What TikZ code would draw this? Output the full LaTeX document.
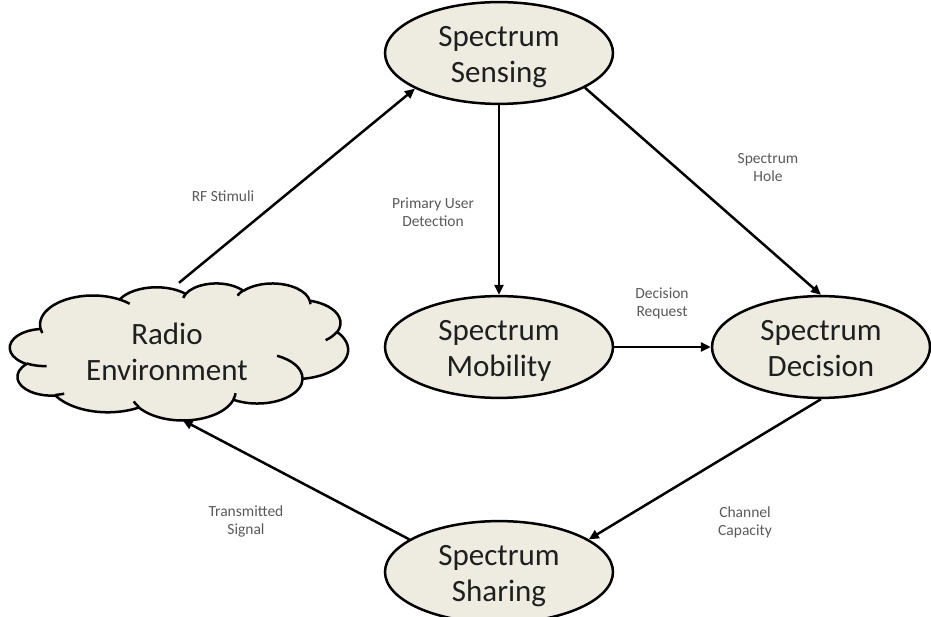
\documentclass[tikz,border=0pt]{standalone}
\usepackage{fontspec}
\setmainfont{Carlito}
\usetikzlibrary{shapes.geometric,arrows.meta}
\definecolor{tanfill}{HTML}{EEECE1}
\definecolor{lbl}{HTML}{595959}
% arc in the way of a DrawingML arcTo (visual angles)
\newcommand{\cdarc}[4]{arc[x radius=#1, y radius=#2,
  start angle={atan2(sin(#3)*#1,cos(#3)*#2)},
  delta angle={mod(atan2(sin(#3+#4)*#1,cos(#3+#4)*#2)-atan2(sin(#3)*#1,cos(#3)*#2)+720,360)}]}
\newcommand{\twolines}[2]{\raisebox{-4pt}[\height][\depth]{\begin{tabular}{@{}c@{}}#1\\#2\end{tabular}}}
\begin{document}
\begin{tikzpicture}[x=1pt,y=-1pt,
  proc/.style={ellipse,draw=black,line width=2.5pt,fill=tanfill,inner sep=0pt,align=center,
    font=\fontsize{31}{36}\selectfont,text=black!88},
  lab/.style={align=center,font=\fontsize{15.5}{18}\selectfont,text=lbl},
  cloudline/.style={draw=black,line width=2.5pt,line join=round},
  conn/.style={line width=2.5pt,-{Triangle[length=10pt,width=9pt]}}]
\useasboundingbox (0,0) rectangle (931,617);
% cloud outline
\begin{scope}[shift={(10,283)},x=0.78241pt,y=-0.31713pt]
\filldraw[cloudline,fill=tanfill] (39.00,143.70)
  \cdarc{67.53}{91.90}{-190.487}{123.781}
  \cdarc{53.33}{72.67}{-144.102}{89.945}
  \cdarc{43.65}{59.45}{-145.808}{99.723}
  \cdarc{48.57}{65.95}{-130.986}{117.242}
  \cdarc{53.33}{72.73}{-78.709}{109.027}
  \cdarc{67.75}{92.20}{-46.267}{130.269}
  \cdarc{57.85}{78.67}{0.625}{114.033}
  \cdarc{67.52}{92.15}{22.452}{115.173}
  \cdarc{77.20}{105.43}{66.243}{75.711}
  \cdarc{43.60}{59.18}{-274.942}{146.736}
  \cdarc{43.45}{59.45}{-246.829}{152.519}
  -- cycle;
\draw[cloudline]
  (46.93,261.77) \cdarc{43.45}{59.45}{86.742}{26.430}
  (69.28,348.99) \cdarc{43.60}{59.18}{73.611}{11.447}
  (164.78,390.90) \cdarc{67.52}{92.15}{137.624}{14.081}
  (288.27,347.51) \cdarc{67.52}{92.15}{6.453}{15.998}
  (341.29,229.54) \cdarc{57.85}{78.67}{-70.292}{70.917}
  (417.98,153.54) \cdarc{53.33}{72.73}{30.318}{27.752}
  (383.24,54.26) \cdarc{48.57}{65.95}{-13.744}{14.859}
  (290.78,39.52) \cdarc{48.57}{65.95}{-149.181}{18.195}
  (221.41,47.20) \cdarc{43.65}{59.45}{-163.494}{17.686}
  (140.00,51.92) \cdarc{67.53}{91.90}{-66.707}{12.319}
  (41.27,157.89) \cdarc{67.53}{91.90}{157.654}{11.858};
\end{scope}
\node[ellipse,inner sep=0pt,minimum width=338pt,minimum height=137pt] (env) at (179,351.5) {};
\node[align=center,font=\fontsize{31}{36}\selectfont,text=black!88] (envtext) at (167,352) {Radio\\Environment};
\node[proc,minimum width=228pt,minimum height=87pt] (sense) at (499,53) {\twolines{Spectrum}{Sensing}};
\node[proc,minimum width=228pt,minimum height=85pt] (mob) at (499,347) {\twolines{Spectrum}{Mobility}};
\node[proc,minimum width=218pt,minimum height=88pt] (dec) at (821,347) {\twolines{Spectrum}{Decision}};
\node[proc,minimum width=228pt,minimum height=84pt] (share) at (499,572) {\twolines{Spectrum}{Sharing}};
\draw[conn] (env.north) -- (sense.203);
\draw[conn] (sense.south) -- (mob.north);
\draw[conn] (sense.-22) -- (dec.north);
\draw[conn] (mob.east) -- (dec.west);
\draw[conn] (dec.south) -- (share.20);
\draw[conn] (share.160) -- (env.-87);
\node[lab] (l1) at (223,196) {RF Stimuli};
\node[lab] (l2) at (433,212) {Primary User\\Detection};
\node[lab] (l3) at (768,168) {Spectrum\\Hole};
\node[lab] (l4) at (662,303) {Decision\\Request};
\node[lab] (l5) at (246,521) {Transmitted\\Signal};
\node[lab] (l6) at (745,522) {Channel\\Capacity};
\end{tikzpicture}
\end{document}
